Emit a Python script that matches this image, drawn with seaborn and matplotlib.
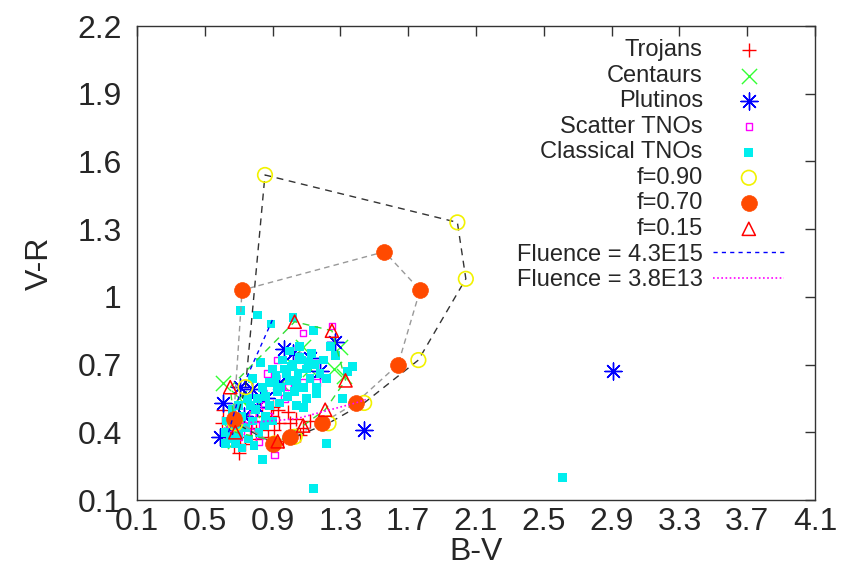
import numpy as np
import pandas as pd
import seaborn as sns
import matplotlib.pyplot as plt

# observed objects (B-V, V-R)
trojans_bv = [0.61, 0.67, 0.83, 0.86, 0.89, 0.91, 0.94, 0.99, 1.00, 0.90, 0.84, 0.87,
              0.77, 0.80, 1.04, 1.08, 0.65, 0.60, 0.63, 0.71, 0.93, 0.80, 1.12, 0.70,
              0.96, 1.06, 0.74, 0.68]
trojans_vr = [0.50, 0.34, 0.41, 0.44, 0.47, 0.41, 0.44, 0.49, 0.44, 0.51, 0.47, 0.38,
              0.42, 0.37, 0.46, 0.42, 0.41, 0.44, 0.37, 0.38, 0.50, 0.45, 0.45, 0.31,
              0.36, 0.39, 0.35, 0.48]

centaurs_bv = [0.61, 1.08, 1.30, 1.26, 1.12, 1.32, 0.70, 0.72, 0.66, 0.78, 0.95, 0.68, 1.02]
centaurs_vr = [0.62, 0.78, 0.78, 0.68, 0.68, 0.65, 0.55, 0.45, 0.40, 0.50, 0.62, 0.36, 0.70]

plutinos_bv = [2.91, 1.44, 0.97, 1.27, 1.18, 1.02, 0.61, 0.59, 0.71, 0.78, 0.73, 0.94,
               0.81, 1.12, 0.66, 0.86]
plutinos_vr = [0.67, 0.41, 0.77, 0.80, 0.67, 0.75, 0.53, 0.38, 0.60, 0.59, 0.47, 0.62,
               0.51, 0.73, 0.42, 0.55]

scatter_bv = [1.08, 1.25, 0.87, 0.93, 1.16, 0.97, 0.91, 0.72, 0.75, 0.78, 0.80, 0.70,
              0.85, 0.65, 0.82, 1.08, 0.99, 0.88]
scatter_vr = [0.84, 0.87, 0.66, 0.72, 0.62, 0.55, 0.30, 0.45, 0.40, 0.48, 0.43, 0.38,
              0.52, 0.42, 0.36, 0.62, 0.60, 0.47]

classical_bv = [0.88, 0.92, 0.95, 0.97, 1.00, 1.02, 1.05, 1.07, 1.10, 1.12, 1.15, 1.18,
                1.03, 0.99, 0.93, 1.08, 1.13, 1.06, 0.96, 0.90, 1.00, 1.16, 1.20, 1.22,
                0.86, 1.04, 1.10, 0.94, 1.27, 1.24,
                0.71, 0.81, 0.89, 1.02, 1.14, 1.37, 1.34, 1.31, 1.16, 1.08, 1.22, 0.84,
                1.14, 2.61, 0.83, 0.78, 0.84,
                0.62, 0.65, 0.68, 0.70, 0.72, 0.74, 0.76, 0.78, 0.80, 0.66, 0.63, 0.70,
                0.75, 0.82, 0.86, 0.68, 0.72, 0.77, 0.81, 0.85, 0.62, 0.88, 0.90, 0.79,
                0.98, 1.04, 1.11, 0.91, 1.01, 1.06]
classical_vr = [0.62, 0.65, 0.60, 0.68, 0.63, 0.70, 0.66, 0.72, 0.68, 0.64, 0.70, 0.66,
                0.58, 0.56, 0.58, 0.60, 0.75, 0.78, 0.72, 0.68, 0.76, 0.60, 0.72, 0.64,
                0.56, 0.52, 0.55, 0.53, 0.74, 0.78,
                0.94, 0.92, 0.88, 0.91, 0.85, 0.69, 0.67, 0.55, 0.57, 0.51, 0.35, 0.28,
                0.15, 0.20, 0.71, 0.64, 0.60,
                0.40, 0.37, 0.43, 0.39, 0.47, 0.42, 0.37, 0.45, 0.50, 0.50, 0.45, 0.52,
                0.55, 0.40, 0.47, 0.35, 0.33, 0.52, 0.55, 0.43, 0.35, 0.52, 0.45, 0.34,
                0.66, 0.62, 0.71, 0.62, 0.69, 0.73]

# model tracks for the three f values
f90_bv = [0.74, 0.855, 1.99, 2.04, 1.76, 1.44, 1.23, 1.03, 0.91, 0.68]
f90_vr = [0.60, 1.54, 1.33, 1.08, 0.72, 0.53, 0.44, 0.38, 0.35, 0.44]
f70_bv = [0.67, 0.72, 1.56, 1.77, 1.64, 1.39, 1.19, 1.00, 0.90]
f70_vr = [0.46, 1.03, 1.20, 1.03, 0.70, 0.53, 0.44, 0.38, 0.35]
f15_bv = [0.65, 1.03, 1.25, 1.33, 1.21, 1.08, 0.93, 0.68]
f15_vr = [0.60, 0.89, 0.85, 0.63, 0.50, 0.43, 0.36, 0.40]

# constant fluence lines
flu_hi_bv = [0.64, 0.71, 0.90]
flu_hi_vr = [0.40, 0.58, 0.90]
flu_lo_bv = [0.72, 1.04, 1.39, 1.45]
flu_lo_vr = [0.44, 0.46, 0.53, 0.545]

sns.set_style("white")
plt.rcParams['font.family'] = ['Liberation Sans', 'DejaVu Sans']

fig = plt.figure(figsize=(8.59, 5.74), dpi=100)
ax = fig.add_axes([0.1595, 0.1289, 0.7893, 0.8258])

sns.scatterplot(x=trojans_bv, y=trojans_vr, marker='+', color='#ff0000', s=110,
                linewidth=1, label='Trojans', ax=ax, zorder=3)
sns.scatterplot(x=centaurs_bv, y=centaurs_vr, marker='x', color='#33ff33', s=120,
                linewidth=1, label='Centaurs', ax=ax, zorder=3)
sns.scatterplot(x=plutinos_bv, y=plutinos_vr, marker=(8, 2, 0), color='#0000ff', s=150,
                linewidth=1, label='Plutinos', ax=ax, zorder=3)
sns.scatterplot(x=scatter_bv, y=scatter_vr, marker='s', color='#ff00ff', fc='none',
                ec='#ff00ff', s=22, linewidth=1, label='Scatter TNOs', ax=ax, zorder=3)
sns.scatterplot(x=classical_bv, y=classical_vr, marker='s', color='#00eeee',
                ec='none', s=40, label='Classical TNOs', ax=ax, zorder=3)

# closed loops of the model tracks
def loop(a):
    return list(a) + [a[0]]

sns.lineplot(x=loop(f90_bv), y=loop(f90_vr), sort=False, estimator=None, color='#333333',
             linestyle=(0, (5, 4)), linewidth=1, legend=False, ax=ax, zorder=4)
sns.lineplot(x=loop(f70_bv), y=loop(f70_vr), sort=False, estimator=None, color='#999999',
             linestyle=(0, (4, 3)), linewidth=1, legend=False, ax=ax, zorder=4)
sns.lineplot(x=loop(f15_bv), y=loop(f15_vr), sort=False, estimator=None, color='#33dd33',
             linestyle=(0, (5, 4)), linewidth=1, legend=False, ax=ax, zorder=4)

sns.scatterplot(x=f90_bv, y=f90_vr, marker='o', color='#f2f200', fc='none', ec='#f2f200',
                s=110, linewidth=1.2, label='f=0.90', ax=ax, zorder=5)
sns.scatterplot(x=f70_bv, y=f70_vr, marker='o', color='#ff4a00', ec='#ff4a00',
                s=130, linewidth=0.5, label='f=0.70', ax=ax, zorder=5)
sns.scatterplot(x=f15_bv, y=f15_vr, marker='^', color='#ff0000', fc='none', ec='#ff0000',
                s=90, linewidth=1.1, label='f=0.15', ax=ax, zorder=5)

sns.lineplot(x=flu_hi_bv, y=flu_hi_vr, sort=False, estimator=None, color='#0000ff',
             linestyle=(0, (3, 3)), linewidth=1, label='Fluence = 4.3E15', ax=ax, zorder=6)
sns.lineplot(x=flu_lo_bv, y=flu_lo_vr, sort=False, estimator=None, color='#ff00ff',
             linestyle=(0, (1, 1.5)), linewidth=1.2, label='Fluence = 3.8E13', ax=ax, zorder=6)

ax.set_xlim(0.1, 4.1)
ax.set_ylim(0.1, 2.2)
xt = [0.1, 0.5, 0.9, 1.3, 1.7, 2.1, 2.5, 2.9, 3.3, 3.7, 4.1]
yt = [0.1, 0.4, 0.7, 1.0, 1.3, 1.6, 1.9, 2.2]
ax.set_xticks(xt)
ax.set_xticklabels([f"{v:g}" for v in xt])
ax.set_yticks(yt)
ax.set_yticklabels([f"{v:g}" for v in yt])
ax.tick_params(axis='both', direction='in', length=7, width=1, color='#333333',
               top=True, right=True, labelsize=23)
ax.tick_params(axis='x', pad=5)
ax.tick_params(axis='y', pad=11)
for s in ax.spines.values():
    s.set_color('#333333')
    s.set_linewidth(1)
    s.set_visible(True)

ax.set_xlabel('B-V', fontsize=23, labelpad=0)
ax.set_ylabel('V-R', fontsize=23, labelpad=16)

leg = ax.legend(loc='upper right', bbox_to_anchor=(0.972, 0.997), frameon=False,
                markerfirst=False, fontsize=17, handlelength=3.0, handletextpad=0.45,
                labelspacing=0.15, borderpad=0)

fig.savefig('out.png', dpi=100)
